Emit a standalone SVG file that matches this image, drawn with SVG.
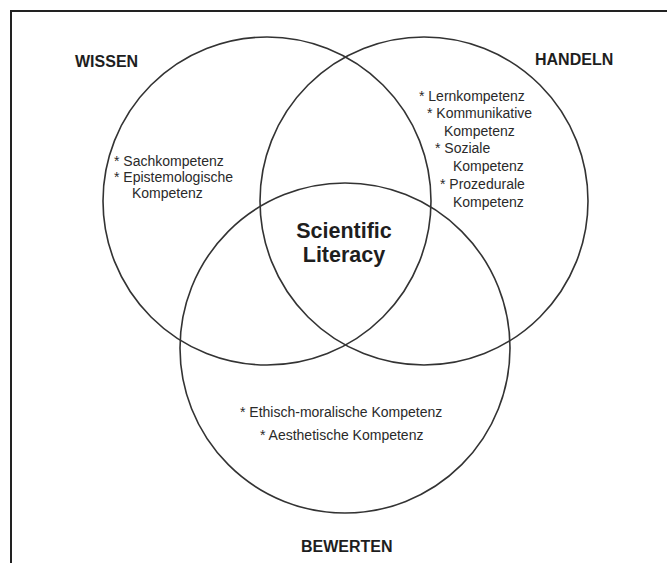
<svg xmlns="http://www.w3.org/2000/svg" width="667" height="563" viewBox="0 0 667 563">
<style>
.set{fill:none;stroke:#333;stroke-width:1.6}
.frame{fill:none;stroke:#222;stroke-width:2}
.head{font-family:"Liberation Sans",Arial,sans-serif;font-weight:bold;font-size:16px;fill:#1e1e1e}
.item{font-family:"Liberation Sans",Arial,sans-serif;font-size:14px;fill:#2a2a2a}
.core{font-family:"Liberation Sans",Arial,sans-serif;font-weight:bold;font-size:21.5px;fill:#1e1e1e;text-anchor:middle}
</style>
<rect x="0" y="0" width="667" height="563" fill="#ffffff"/>
<polyline class="frame" points="11,563 11,11 667,11"/>
<g id="connectors"></g>
<g id="wissen">
<circle class="set" cx="267" cy="201" r="164"/>
<text class="head" x="75" y="67">WISSEN</text>
<text class="item" x="114" y="166">* Sachkompetenz</text>
<text class="item" x="114" y="182">* Epistemologische</text>
<text class="item" x="132" y="198">Kompetenz</text>
</g>
<g id="handeln">
<circle class="set" cx="424" cy="201" r="164"/>
<text class="head" x="535" y="65">HANDELN</text>
<text class="item" x="419" y="101">* Lernkompetenz</text>
<text class="item" x="427" y="118">* Kommunikative</text>
<text class="item" x="444" y="136">Kompetenz</text>
<text class="item" x="435" y="153">* Soziale</text>
<text class="item" x="453" y="171">Kompetenz</text>
<text class="item" x="440" y="189">* Prozedurale</text>
<text class="item" x="453" y="207">Kompetenz</text>
</g>
<g id="bewerten">
<circle class="set" cx="345" cy="348" r="165"/>
<text class="head" x="301" y="552">BEWERTEN</text>
<text class="item" x="240" y="417">* Ethisch-moralische Kompetenz</text>
<text class="item" x="260" y="440">* Aesthetische Kompetenz</text>
</g>
<g id="scientific-literacy">
<text class="core" x="344" y="238">Scientific</text>
<text class="core" x="344" y="262">Literacy</text>
</g>
</svg>
